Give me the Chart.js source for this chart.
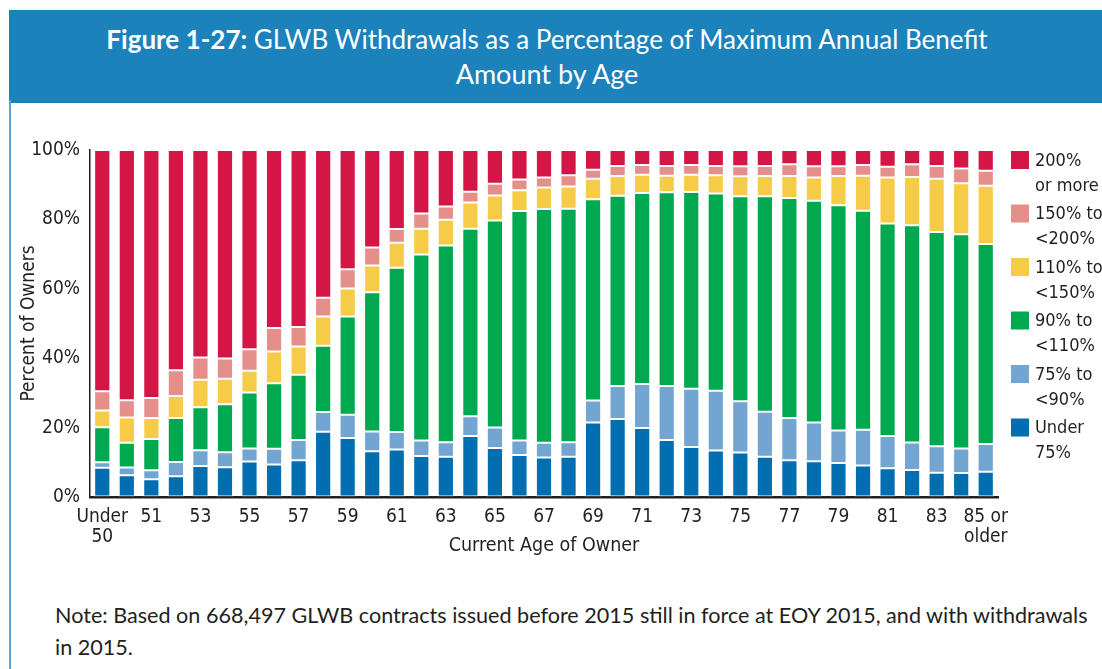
<!DOCTYPE html>
<html>
<head>
<meta charset="utf-8">
<script src="https://cdn.jsdelivr.net/npm/chart.js@4.4.1/dist/chart.umd.min.js"></script>
<style>
  html, body { margin: 0; padding: 0; background: #ffffff; width: 1102px; height: 669px; overflow: hidden; }
  #leftline { position: absolute; left: 9px; top: 100px; width: 2px; height: 569px; background: #5b9fd3; }
  #banner { position: absolute; left: 9px; top: 10px; width: 1093px; height: 93px; background: #1c82bb; }
  .tline { position: absolute; left: 0; width: 1094px; text-align: center; color: #ffffff;
           font-family: Lato, "Open Sans", sans-serif; font-size: 26px; white-space: nowrap; }
  #t1 { top: 23px; }
  #t2 { top: 57px; font-size: 27px; }
  .tline b { font-weight: 700; }
  #chartwrap { position: absolute; left: 0; top: 103px; width: 1102px; height: 460px; }
  #note { position: absolute; left: 55px; top: 599px; color: #231f20; font-family: Lato, "Open Sans", sans-serif;
          font-size: 21.6px; line-height: 32px; white-space: nowrap; }
</style>
</head>
<body>
<div id="banner"></div>
<div id="leftline"></div>
<div class="tline" id="t1"><b>Figure 1-27:</b> GLWB Withdrawals as a Percentage of Maximum Annual Benefit</div>
<div class="tline" id="t2">Amount by Age</div>
<div id="chartwrap"><canvas id="c" width="1102" height="460"></canvas></div>
<div id="note">Note: Based on 668,497 GLWB contracts issued before 2015 still in force at EOY 2015, and with withdrawals<br>in 2015.</div>
<script>
// ---- Data (percent of owners) ----
const ageLabels = ["Under 50","50","51","52","53","54","55","56","57","58","59","60","61","62","63","64","65","66","67","68","69","70","71","72","73","74","75","76","77","78","79","80","81","82","83","84","85 or older"];

const under75   = [8.4,6.3,5.1,6.0,8.9,8.6,10.2,9.4,10.6,18.8,17.0,13.2,13.7,11.8,11.6,17.6,14.1,12.1,11.4,11.6,21.5,22.5,19.9,16.4,14.4,13.4,12.8,11.6,10.6,10.3,9.8,9.1,8.3,7.8,7.0,6.9,7.3];
const p75to90   = [1.6,2.2,2.6,4.1,4.6,4.3,3.8,4.5,5.8,5.7,6.7,5.7,5.0,4.5,4.2,5.7,5.9,4.2,4.2,4.2,6.3,9.5,12.7,15.6,16.8,17.2,14.8,13.0,12.2,11.2,9.4,10.3,9.3,7.9,7.6,7.1,8.0];
const p90to110  = [10.1,7.1,9.0,12.7,12.4,13.8,16.1,18.9,18.8,19.1,28.3,40.1,47.4,53.6,56.7,54.0,59.7,66.1,67.4,67.3,58.0,54.8,55.0,55.8,56.7,56.9,59.1,62.1,63.4,63.9,64.9,63.1,61.2,62.6,61.8,61.7,57.6];
const p110to150 = [4.8,7.3,6.1,6.3,7.9,7.4,6.3,9.1,8.2,8.4,8.1,7.7,7.2,7.4,7.4,7.6,7.2,6.0,6.2,6.4,5.9,5.7,5.3,4.8,5.0,5.2,5.7,5.8,6.3,6.7,8.4,10.1,13.3,13.9,15.3,14.7,16.8];
const p150to200 = [5.6,5.0,5.7,7.4,6.4,5.8,6.2,6.8,5.6,5.4,5.5,5.2,3.9,4.4,3.8,3.1,3.4,3.1,2.9,3.2,2.6,2.9,2.8,2.8,2.8,2.7,2.9,2.9,3.4,3.2,2.8,3.1,3.1,3.7,3.7,4.3,4.3];
const p200plus  = [69.5,72.1,71.5,63.5,59.8,60.1,57.4,51.3,51.0,42.6,34.4,28.1,22.8,18.3,16.3,12.0,9.7,8.5,7.9,7.3,5.7,4.6,4.3,4.6,4.3,4.6,4.7,4.6,4.1,4.7,4.7,4.3,4.8,4.1,4.6,5.3,6.0];

const seriesNames = ["Under\n75%","75% to\n<90%","90% to\n<110%","110% to\n<150%","150% to\n<200%","200%\nor more"];
const seriesColors = ["#006eb1","#72a5d1","#00a84f","#f6cb48","#e58f8b","#d31646"];
const yTicks = [0,20,40,60,80,100];

const TXT = "#231f20";
const NARROW = '"DejaVu Sans Condensed", "Liberation Sans Narrow", sans-serif';

const seriesValues = [under75, p75to90, p90to110, p110to150, p150to200, p200plus];
const datasets = seriesValues.map((vals, i) => ({
  label: seriesNames[i],
  data: vals,
  backgroundColor: seriesColors[i],
  borderColor: "rgba(255,255,255,0.55)",
  borderWidth: 1,
  borderSkipped: false,
  categoryPercentage: 1.0,
  barPercentage: 0.66
}));

const sideLegend = {
  id: "sideLegend",
  afterDraw(chart) {
    const ctx = chart.ctx;
    const ds = chart.data.datasets;
    ctx.save();
    ctx.font = "18px " + NARROW;
    ctx.textBaseline = "middle";
    ctx.textAlign = "left";
    const x0 = chart.chartArea.right + 13;
    const y0 = chart.chartArea.top + 10;
    for (let k = 0; k < ds.length; k++) {
      const d = ds[ds.length - 1 - k];
      const cy = y0 + k * 53.5;
      ctx.fillStyle = d.backgroundColor;
      ctx.fillRect(x0, cy - 9, 18, 18);
      ctx.fillStyle = TXT;
      const lines = d.label.split("\n");
      lines.forEach((ln, j) => ctx.fillText(ln, x0 + 24, cy + 1 + j * 25));
    }
    ctx.restore();
  }
};

new Chart(document.getElementById("c"), {
  type: "bar",
  data: { labels: ageLabels, datasets },
  options: {
    responsive: false,
    animation: false,
    layout: { padding: { left: 0, right: 104, top: 47, bottom: 0 } },
    plugins: { legend: { display: false }, tooltip: { enabled: false }, title: { display: false } },
    scales: {
      x: {
        stacked: true,
        grid: { display: true, drawOnChartArea: false, drawTicks: false },
        border: { display: true, color: TXT, width: 2.5 },
        ticks: {
          autoSkip: false, maxRotation: 0, minRotation: 0, padding: 10, color: TXT,
          font: { family: NARROW, size: 19, lineHeight: 1.05 },
          callback: function (v, i) {
            if (i % 2 !== 0) return "";
            const s = ageLabels[i];
            if (s === "Under 50") return ["Under", "50"];
            if (s === "85 or older") return ["85 or", "older"];
            return s;
          }
        },
        title: { display: true, text: "Current Age of Owner", color: TXT,
                 font: { family: NARROW, size: 19.5 }, padding: { top: 0, bottom: 5 } },
        afterFit(scale) { scale.height = 66; }
      },
      y: {
        stacked: true,
        min: 0, max: 100,
        afterBuildTicks(scale) { scale.ticks = yTicks.map(v => ({ value: v })); },
        grid: { display: true, drawOnChartArea: false, drawTicks: false },
        border: { display: true, color: TXT, width: 1.5 },
        ticks: { padding: 10, color: TXT, font: { family: NARROW, size: 19 },
                 callback: v => v + "%" },
        title: { display: true, text: "Percent of Owners", color: TXT,
                 font: { family: NARROW, size: 19 }, padding: { top: 18, bottom: 0 } },
        afterFit(scale) { scale.width = 90; }
      }
    }
  },
  plugins: [sideLegend]
});
</script>
</body>
</html>
